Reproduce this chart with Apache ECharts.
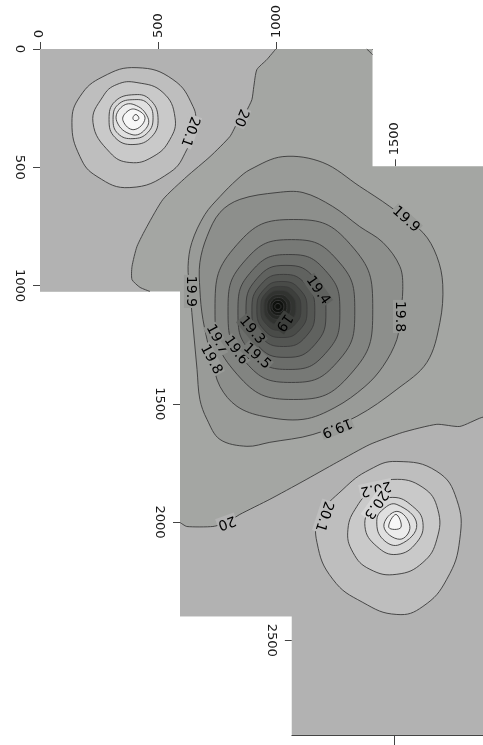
<!DOCTYPE html>
<html><head><meta charset="utf-8">
<script src="https://cdn.jsdelivr.net/npm/echarts@6/dist/echarts.min.js"></script>
<style>html,body{margin:0;padding:0;background:#fff}#c{width:483px;height:745px}</style>
</head><body><div id="c"></div>
<script>
// ---------------- DATA (data units; horizontal axis = h, vertical axis = v) ----------------
const topTicksRegion1 = [0, 500, 1000];
const topTicksRegion2 = [1500];
const bottomTicks = [1500];
const leftTicksRegion1 = [0, 500, 1000];
const leftTicksRegion2 = [1500, 2000];
const leftTicksRegion3 = [2500];

const hMax = 2000, vMax = 2900;
const region1Right = 1406, region1Bottom = 1025;
const region2Left = 592, region2Top = 496, region2Bottom = 2399;
const region3Left = 1065;

const domainOutline = [[0,0],[1406,0],[1406,496],[2000,496],[2000,2900],[1065,2900],[1065,2399],[592,2399],[592,1025],[0,1025]];

const contour20Upper = [[997,0],[959,45],[917,87],[904,159],[896,214],[871,265],[837,307],[803,370],[719,455],[621,539],[520,636],[452,751],[410,835],[389,920],[389,975],[423,1008],[465,1025]];
const contour20UpperClose = [[0,1025],[0,0]];
const contour20Lower = [[592,2002],[621,2019],[731,2019],[790,2002],[845,1968],[972,1904],[1112,1828],[1255,1748],[1395,1672],[1534,1621],[1678,1587],[1775,1596],[1868,1558],[2000,1530]];
const contour20LowerClose = [[2000,2900],[1065,2900],[1065,2399],[592,2399]];
const cornerContour199 = [[1382,0],[1406,24]];

const peakALevels = [20.1, 20.2, 20.3, 20.4, 20.5, 20.6, 20.7];
const peakARings = [
  [[410,79],[562,129],[647,243],[655,320],[621,425],[549,522],[380,586],[241,539],[169,455],[135,311],[169,201],[266,117]],
  [[410,142],[520,184],[571,290],[549,383],[478,455],[380,480],[296,438],[224,311],[266,201],[325,150]],
  [[401,193],[465,214],[499,290],[473,370],[393,404],[317,374],[292,298],[317,222]],
  [[401,214],[456,231],[478,290],[456,353],[393,379],[330,358],[309,298],[330,235]],
  [[397,235],[456,290],[444,341],[389,362],[325,307],[342,248]],
  [[406,256],[444,294],[397,341],[351,303],[368,265]],
  [[406,277],[418,294],[401,303],[393,290]]
];

const peakBLevels = [20.1, 20.2, 20.3, 20.4, 20.5, 20.6];
const peakBRings = [
  [[1509,1744],[1678,1786],[1762,1905],[1775,2073],[1720,2242],[1619,2357],[1509,2391],[1365,2340],[1238,2242],[1171,2086],[1183,1976],[1281,1862],[1395,1778]],
  [[1492,1820],[1619,1854],[1682,1947],[1678,2073],[1619,2171],[1509,2221],[1395,2200],[1323,2128],[1302,2031],[1340,1934],[1407,1862]],
  [[1492,1896],[1576,1934],[1619,2002],[1593,2086],[1509,2137],[1424,2103],[1374,2019],[1407,1934]],
  [[1509,1926],[1593,2010],[1522,2095],[1450,2073],[1424,1997],[1450,1947]],
  [[1509,1955],[1564,2019],[1522,2073],[1454,2019]],
  [[1505,1968],[1526,2023],[1475,2023]]
];

const lowLevels = [19.9, 19.8, 19.7, 19.6, 19.5, 19.4, 19.3, 19.2, 19.1, 19.0, 18.9, 18.8, 18.7, 18.6];
const lowRings = [
  [[761,624],[833,552],[888,510],[1027,455],[1196,480],[1352,581],[1479,666],[1619,776],[1678,877],[1703,996],[1691,1156],[1636,1325],[1509,1439],[1340,1553],[1154,1630],[972,1663],[875,1680],[761,1651],[706,1566],[676,1482],[664,1355],[642,1114],[634,1017],[626,920],[642,818],[697,700]],
  [[761,691],[845,636],[1002,607],[1112,607],[1238,666],[1352,751],[1450,818],[1522,920],[1534,1017],[1522,1131],[1509,1228],[1450,1342],[1374,1427],[1247,1516],[1112,1566],[943,1553],[833,1511],[761,1427],[727,1313],[689,1144],[676,1017],[676,903],[706,793]],
  [[1073,721],[1313,827],[1407,1101],[1313,1375],[1073,1482],[833,1375],[740,1101],[833,827]],
  [[1063,806],[1256,891],[1331,1108],[1256,1325],[1063,1410],[870,1325],[795,1108],[870,891]],
  [[1052,869],[1207,937],[1268,1112],[1207,1287],[1052,1355],[897,1287],[837,1112],[897,937]],
  [[1040,915],[1162,970],[1209,1110],[1162,1250],[1040,1304],[918,1250],[871,1110],[918,970]],
  [[1029,953],[1125,997],[1162,1106],[1125,1215],[1029,1258],[933,1215],[896,1106],[933,997]],
  [[1023,983],[1099,1017],[1129,1102],[1099,1187],[1023,1220],[947,1187],[917,1102],[947,1017]],
  [[1018,1004],[1079,1030],[1103,1097],[1079,1164],[1018,1190],[957,1164],[934,1097],[957,1030]],
  [[1014,1021],[1063,1041],[1082,1093],[1063,1145],[1014,1165],[965,1145],[947,1093],[965,1041]],
  [[1010,1038],[1047,1053],[1061,1091],[1047,1129],[1010,1144],[973,1129],[959,1091],[973,1053]],
  [[1008,1051],[1034,1062],[1044,1089],[1034,1116],[1008,1127],[982,1116],[972,1089],[982,1062]],
  [[1006,1063],[1024,1071],[1031,1089],[1024,1107],[1006,1114],[988,1107],[981,1089],[988,1071]],
  [[1006,1076],[1015,1080],[1019,1089],[1015,1098],[1006,1101],[997,1098],[993,1089],[997,1080]]
];

const labelTexts  = ['20.1','20','19.9','19.9','19.8','19.9','20','20.1','20.2','20.3','19.4','19.3','19','19.7','19.6','19.5','19.8'];
const labelLevels = [20.1, 20.0, 19.9, 19.9, 19.8, 19.9, 20.0, 20.1, 20.2, 20.3, 19.4, 19.3, 19.0, 19.7, 19.6, 19.5, 19.8];
const labelAnchors = [[634,349],[850,290],[638,1025],[1547,721],[1522,1131],[1255,1600],[790,2002],[1200,1976],[1420,1858],[1420,1926],[1175,1021],[896,1190],[1031,1156],[748,1228],[828,1275],[917,1300],[723,1313]];

// ---------------- STYLE ----------------
const labelAnglesCW = [110, 112, 90, 42, 90, 158, 160, 108, 168, 125, 55, 50, 125, 62, 55, 42, 62];
const S = 473 / hMax;           // px per data unit
const L0 = 40, T0 = 49;
const LINE = '#3a3a3a';
function bandColor(L) {
  L = Math.round(L * 10) / 10;
  let g = Math.round(178 + (L - 20) * 115);
  g = Math.max(14, Math.min(248, g));
  return L < 19.95 ? `rgb(${g-2},${g},${g-3})` : `rgb(${g},${g},${g})`;
}

const fillShapes = [];
fillShapes.push({ pts: domainOutline, fill: bandColor(19.9), stroke: null, smooth: 0 });
fillShapes.push({ pts: contour20Upper.concat(contour20UpperClose), fill: bandColor(20.0), stroke: null, smooth: 0 });
fillShapes.push({ pts: contour20Lower.concat(contour20LowerClose), fill: bandColor(20.0), stroke: null, smooth: 0 });
peakALevels.forEach((lv, i) => fillShapes.push({ pts: peakARings[i], fill: bandColor(lv), stroke: LINE, smooth: 0.45 }));
peakBLevels.forEach((lv, i) => fillShapes.push({ pts: peakBRings[i], fill: bandColor(lv), stroke: LINE, smooth: 0.45 }));
lowLevels.forEach((lv, i) => fillShapes.push({ pts: lowRings[i], fill: bandColor(lv - 0.1), stroke: LINE, smooth: i < 2 ? 0.35 : 0.5 }));

const lineShapes = [contour20Upper, contour20Lower, cornerContour199];

const fmt = v => String(v);
const tickStyle = { lineStyle: { color: '#444', width: 1 }, length: 7 };
const labStyle = { color: '#1a1a1a', fontSize: 13, fontFamily: 'DejaVu Sans', rotate: -90, formatter: fmt };

function mkGrid(hFrom, vFrom) {
  return { left: L0 + hFrom * S, top: T0 + vFrom * S, width: (hMax - hFrom) * S, height: (vMax - vFrom) * S,
           outerBoundsMode: 'none', containLabel: false };
}
function hAxis(g, min, opts) {
  const o = Object.assign({
    type: 'value', gridIndex: g, position: 'top', min: min, max: hMax,
    splitLine: { show: false },
    axisTick: { show: false }, axisLabel: { show: false }
  }, opts || {});
  o.axisLine = Object.assign({ show: false }, o.axisLine || {}, { onZero: false });
  return o;
}
function vAxis(g, min, opts) {
  const o = Object.assign({
    type: 'value', gridIndex: g, position: 'left', inverse: true, min: min, max: vMax,
    splitLine: { show: false },
    axisTick: { show: false }, axisLabel: { show: false }
  }, opts || {});
  o.axisLine = Object.assign({ show: false }, o.axisLine || {}, { onZero: false });
  return o;
}
const frameLine = { show: true, lineStyle: { color: '#444', width: 1 } };

const option = {
  animation: false,
  backgroundColor: '#ffffff',
  grid: [
    mkGrid(0, 0),                          // 0: data
    Object.assign(mkGrid(0, 0), { width: region1Right * S }), // 1: region 1 axes
    mkGrid(0, region2Top),                 // 2: top axis at step (1500)
    mkGrid(region2Left, 0),                // 3: left axis at region 2
    mkGrid(region3Left, 0)                 // 4: left axis region 3 + bottom axis
  ],
  xAxis: [
    hAxis(0, 0),
    hAxis(1, 0, { max: region1Right, axisLine: frameLine,
      axisTick: Object.assign({ show: true, customValues: topTicksRegion1 }, tickStyle),
      axisLabel: Object.assign({ show: true, customValues: topTicksRegion1, margin: 11 }, labStyle) }),
    hAxis(2, 0, {
      axisTick: Object.assign({ show: true, customValues: topTicksRegion2 }, tickStyle),
      axisLabel: Object.assign({ show: true, customValues: topTicksRegion2, margin: 11 }, labStyle) }),
    hAxis(3, region2Left),
    hAxis(4, region3Left, { position: 'bottom', axisLine: frameLine,
      axisTick: { show: true, customValues: bottomTicks, length: 12, lineStyle: { color: '#444' } },
      axisLabel: Object.assign({ show: true, customValues: bottomTicks, margin: 16 }, labStyle) })
  ],
  yAxis: [
    vAxis(0, 0),
    vAxis(1, 0, { axisTick: Object.assign({ show: true, customValues: leftTicksRegion1 }, tickStyle),
      axisLabel: Object.assign({ show: true, customValues: leftTicksRegion1, margin: 14 }, labStyle) }),
    vAxis(2, region2Top),
    vAxis(3, 0, { axisTick: Object.assign({ show: true, customValues: leftTicksRegion2 }, tickStyle),
      axisLabel: Object.assign({ show: true, customValues: leftTicksRegion2, margin: 14 }, labStyle) }),
    vAxis(4, 0, { axisTick: Object.assign({ show: true, customValues: leftTicksRegion3 }, tickStyle),
      axisLabel: Object.assign({ show: true, customValues: leftTicksRegion3, margin: 14 }, labStyle) })
  ],
  series: [
    {
      type: 'custom', xAxisIndex: 0, yAxisIndex: 0, silent: true, z: 1,
      data: fillShapes.map(() => [0, 0]),
      renderItem: (params, api) => {
        const s = fillShapes[params.dataIndex];
        return { type: 'polygon',
          shape: { points: s.pts.map(p => api.coord(p)), smooth: s.smooth },
          style: { fill: s.fill, stroke: s.stroke, lineWidth: 0.9 } };
      }
    },
    {
      type: 'custom', xAxisIndex: 0, yAxisIndex: 0, silent: true, z: 2,
      data: lineShapes.map(() => [0, 0]),
      renderItem: (params, api) => {
        const pts = lineShapes[params.dataIndex].map(p => api.coord(p));
        return { type: 'polyline', shape: { points: pts, smooth: 0.2 },
          style: { fill: null, stroke: LINE, lineWidth: 0.9 } };
      }
    },
    {
      type: 'custom', xAxisIndex: 0, yAxisIndex: 0, silent: true, z: 3,
      data: labelTexts.map(() => [0, 0]),
      renderItem: (params, api) => {
        const i = params.dataIndex;
        const p = api.coord(labelAnchors[i]);
        return { type: 'text', x: p[0], y: p[1], rotation: -labelAnglesCW[i] * Math.PI / 180,
          style: { text: labelTexts[i], x: 0, y: 0, align: 'center', verticalAlign: 'middle',
            fill: '#000', font: '14px "DejaVu Sans"',
            backgroundColor: bandColor(labelLevels[i] - 0.05), padding: [0, 1] } };
      }
    }
  ]
};
const chart = echarts.init(document.getElementById('c'));
chart.setOption(option);
</script></body></html>
